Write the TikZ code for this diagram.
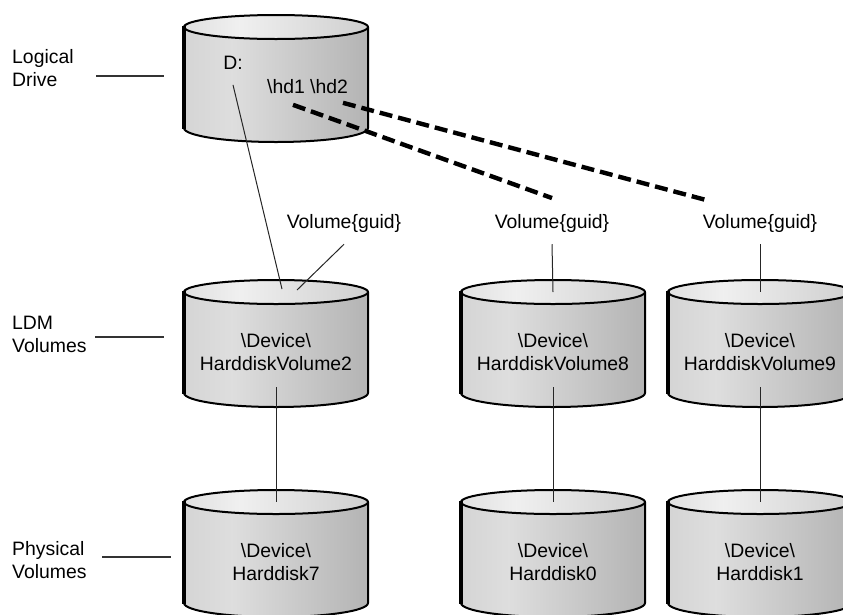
\documentclass[tikz,border=0pt]{standalone}
\usepackage{fontspec}
\setmainfont{Liberation Sans}
\pgfdeclarehorizontalshading{drumbody}{100bp}{color(0bp)=(black!48); color(20bp)=(black!18); color(38bp)=(black!13); color(85bp)=(black!34); color(100bp)=(black!50)}
\pgfdeclarehorizontalshading{drumlid}{100bp}{color(0bp)=(black!22); color(40bp)=(black!6); color(100bp)=(black!28)}

\begin{document}
\begin{tikzpicture}[
	x=1pt, y=1pt,
	txt/.style      = {inner sep=0pt, font=\fontsize{19.4pt}{23pt}\selectfont},
	layer/.style    = {txt, anchor=west, align=left},
	disktext/.style = {txt, align=center},
	wire/.style     = {line width=1pt, black!85},
	pointer/.style  = {line width=1.2pt, black!80},
	mapping/.style  = {line width=4.4pt, dash pattern=on 13pt off 6pt},
	rim/.style      = {line width=2pt, line join=round},
	pics/drum/.style = {code={
		\shade[shading=drumbody] (-92,0) -- (-92,-101) arc[start angle=180, end angle=360, x radius=92, y radius=14] -- (92,0) -- cycle;
		\shade[shading=drumlid] (0,0) ellipse[x radius=92, y radius=12];
		\draw[rim] (-92,0) -- (-92,-101) arc[start angle=180, end angle=360, x radius=92, y radius=14] -- (92,0);
		\draw[rim] (0,0) ellipse[x radius=92, y radius=12];
		\draw[line width=3.6pt] (-92,1) -- (-92,-102);
		\coordinate (-top) at (0,0);
		\coordinate (-foot) at (0,-95);
		\node[disktext] (-name) at (0,-60) {#1};
	}}
	]
	
	\path[use as bounding box] (0,0) rectangle (843,-614);
	\clip (0,0) rectangle (843,-614);
	
	% ===================== Layer labels =====================
	\node[layer] (logical)  at (12,-68.5) {Logical\\Drive};
	\node[layer] (ldmvol)   at (12,-334.5) {LDM\\Volumes};
	\node[layer] (physical) at (12,-560) {Physical\\Volumes};
	
	\draw[pointer] ([xshift=22.5pt,yshift=-7.5pt]logical.east) -- ++(68,0);
	\draw[pointer] ([xshift=8.5pt,yshift=-2.5pt]ldmvol.east) -- ++(69,0);
	\draw[pointer] ([xshift=15.5pt,yshift=3pt]physical.east) -- ++(69,0);
	
	% ===================== Disks =====================
	\pic (drive) at (276,-27) {drum={}};
	
	\pic (ldm2) at (276,-292) {drum={\textbackslash Device\textbackslash\\HarddiskVolume2}};
	\pic (ldm8) at (553,-292) {drum={\textbackslash Device\textbackslash\\HarddiskVolume8}};
	\pic (ldm9) at (760,-292) {drum={\textbackslash Device\textbackslash\\HarddiskVolume9}};
	
	\pic (disk7) at (276,-502) {drum={\textbackslash Device\textbackslash\\Harddisk7}};
	\pic (disk0) at (553,-502) {drum={\textbackslash Device\textbackslash\\Harddisk0}};
	\pic (disk1) at (760,-502) {drum={\textbackslash Device\textbackslash\\Harddisk1}};
	
	% ===================== Drive contents =====================
	\node[txt] (dd)  at (233,-63) {D:};
	\node[txt] (hd1) at (286,-87) {\textbackslash hd1};
	\node[txt] (hd2) at (329,-87) {\textbackslash hd2};
	
	% ===================== Volume names =====================
	\node[txt] (guid2) at (344,-223) {Volume\{guid\}};
	\node[txt] (guid8) at (552,-223) {Volume\{guid\}};
	\node[txt] (guid9) at (760,-223) {Volume\{guid\}};
	
	% ===================== Connectors =====================
	\draw[wire] ([yshift=-15pt]dd.south) -- ([xshift=6pt,yshift=3pt]ldm2-top);
	\draw[wire] ([yshift=-12pt]guid2.south) -- ([xshift=21pt,yshift=2pt]ldm2-top);
	\draw[wire] ([yshift=-12pt]guid8.south) -- (ldm8-top);
	\draw[wire] ([yshift=-12pt]guid9.south) -- (ldm9-top);
	
	\draw[wire] (ldm2-foot) -- (disk7-top);
	\draw[wire] (ldm8-foot) -- (disk0-top);
	\draw[wire] (ldm9-foot) -- (disk1-top);
	
	\draw[mapping] ([xshift=7pt,yshift=-10.5pt]hd1.south) -- ([yshift=15.7pt]guid8.north);
	\draw[mapping] ([xshift=14pt,yshift=-8.5pt]hd2.south) -- ([xshift=-50pt,yshift=12.7pt]guid9.north);
	
\end{tikzpicture}
\end{document}
